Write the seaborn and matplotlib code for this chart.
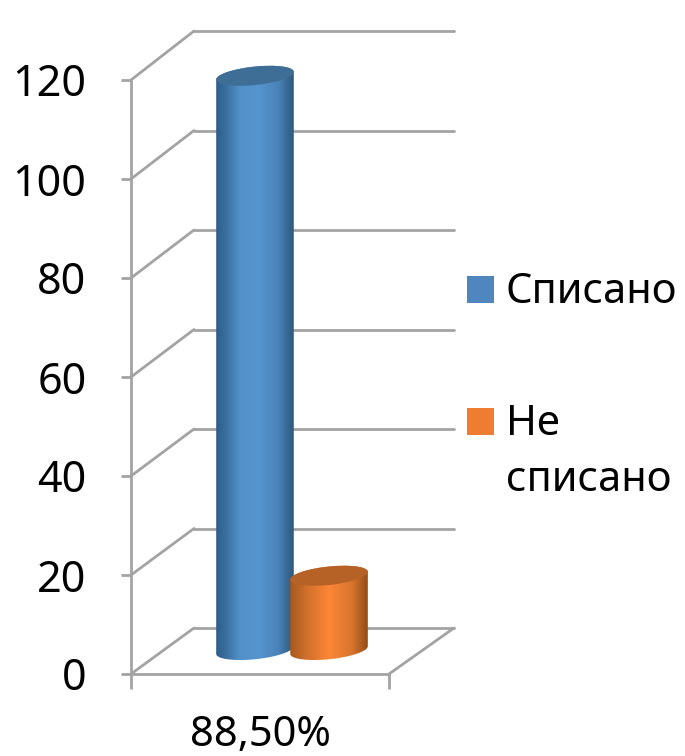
import numpy as np
import pandas as pd
import matplotlib
matplotlib.use("Agg")
import matplotlib.pyplot as plt
import seaborn as sns
from matplotlib.colors import LinearSegmentedColormap
from matplotlib.patches import ConnectionPatch, Ellipse, Rectangle
from matplotlib.path import Path
from matplotlib.transforms import IdentityTransform

categories = ["88,50%"]
series_names = ["Списано", "Не\nсписано"]
series_values = [116, 15]
y_ticks = [0, 20, 40, 60, 80, 100, 120]

W, H = 685, 756
GRID = "#a3a3a3"
side_colors = [[(0, "#2f5f88"), (0.12, "#3a6e9f"), (0.3, "#5190c8"), (0.55, "#5695cf"), (0.8, "#4a83b8"), (1, "#2d587c")],
               [(0, "#a8581d"), (0.2, "#cf6f2b"), (0.5, "#fd8636"), (0.8, "#d8742d"), (1, "#944d17")]]
top_colors = ["#3e6d95", "#b66126"]
legend_colors = ["#4f86bd", "#ee7d31"]

sns.set_theme(style="white")
plt.rcParams["font.family"] = ["Noto Sans", "DejaVu Sans"]
FS = 30
LW = 2


def box(x0, y0, x1, y1):
    # rectangle in pixels from the top left corner -> figure fractions
    return [x0 / W, 1 - y1 / H, (x1 - x0) / W, (y1 - y0) / H]


fig = plt.figure(figsize=(W / 100, H / 100), dpi=100, facecolor="white")

# back wall
ax_back = fig.add_axes(box(194, 31, 454, 628), facecolor="none")
ax_back.set_ylim(0, 120)
ax_back.set_yticks(y_ticks)
ax_back.set_xticks([])
ax_back.tick_params(left=False, labelleft=False)
ax_back.grid(axis="y", color=GRID, lw=LW)
for line in ax_back.get_ygridlines():
    line.set_clip_on(False)
sns.despine(ax=ax_back, left=True, bottom=True)

# front axis with the tick labels
ax = fig.add_axes(box(131, 80, 389, 674), facecolor="none")
ax.set_ylim(0, 120)
ax.set_xlim(0, 1)
ax.set_yticks(y_ticks)
ax.set_xticks([0, 1])
ax.set_xticklabels(["", ""])
ax.tick_params(axis="y", left=True, length=7, width=LW, color=GRID, labelsize=FS + 1, pad=25, labelcolor="black")
ax.tick_params(axis="x", bottom=True, length=11, width=LW, color=GRID)
ax.set_xlabel(categories[0], fontsize=FS, color="black", labelpad=14)
sns.despine(ax=ax)
for side in ["left", "bottom"]:
    ax.spines[side].set_color(GRID)
    ax.spines[side].set_linewidth(LW)

# side wall and floor
for v in y_ticks:
    fig.add_artist(ConnectionPatch((0, v), (0, v), coordsA=ax.get_yaxis_transform(),
                                   coordsB=ax_back.get_yaxis_transform(), color=GRID, lw=LW))
fig.add_artist(ConnectionPatch((1, 0), (1, 0), coordsA=ax.get_yaxis_transform(),
                               coordsB=ax_back.get_yaxis_transform(), color=GRID, lw=LW))

# bars, half way through the depth
ax_bars = fig.add_axes(box(163, 650 - 125 * 4.95, 421, 650 + 5 * 4.95), facecolor="none", zorder=5)
df = pd.DataFrame({"cat": categories * 2, "name": series_names, "value": series_values})
sns.barplot(data=df, x="cat", y="value", hue="name", hue_order=series_names, palette=legend_colors,
            width=0.574, legend=False, ax=ax_bars)
ax_bars.set_xlim(-0.5, 0.5)
ax_bars.set_ylim(-5, 125)
ax_bars.axis("off")

A, B, TILT = 39, 9.2, np.radians(6)
t = np.linspace(0, np.pi, 60)


def ellipse_points(cx, cy, tt):
    xs = cx + A * np.cos(tt) * np.cos(TILT) - B * np.sin(tt) * np.sin(TILT)
    ys = cy + A * np.cos(tt) * np.sin(TILT) + B * np.sin(tt) * np.cos(TILT)
    return np.column_stack([xs, ys])


for i, bar in enumerate(ax_bars.patches):
    center = bar.get_x() + bar.get_width() / 2
    (cx, cy0), (_, cy1) = ax_bars.transData.transform([(center, 0), (center, bar.get_height())])
    outline = np.vstack([ellipse_points(cx, cy0, t + np.pi), ellipse_points(cx, cy1, t)])
    clip = Path(np.vstack([outline, outline[0]]), closed=True)

    cmap = LinearSegmentedColormap.from_list("side", side_colors[i])
    half = 39 / 258
    im = ax_bars.imshow(np.linspace(0, 1, 200)[None, :], cmap=cmap, aspect="auto", zorder=3 + i,
                        extent=(center - half, center + half, -5, 125))
    im.set_clip_path(clip, IdentityTransform())

    top = Ellipse((cx, cy1), 2 * A, 2 * B, angle=6, transform=IdentityTransform(),
                  facecolor=top_colors[i], edgecolor="none", zorder=3 + i)
    ax_bars.add_patch(top)
ax_bars.set_xlim(-0.5, 0.5)
ax_bars.set_ylim(-5, 125)

# legend
for i, y0 in enumerate([276, 408]):
    fig.add_artist(Rectangle((467 / W, 1 - (y0 + 27) / H), 27 / W, 27 / H, transform=fig.transFigure,
                             facecolor=legend_colors[i], edgecolor="none"))
fig.text(506 / W, 1 - 292 / H, series_names[0], fontsize=FS, va="center", ha="left", color="black")
fig.text(506 / W, 1 - 452 / H, series_names[1], fontsize=FS, va="center", ha="left", color="black",
         linespacing=1.42)

fig.savefig("out.png", dpi=100)
